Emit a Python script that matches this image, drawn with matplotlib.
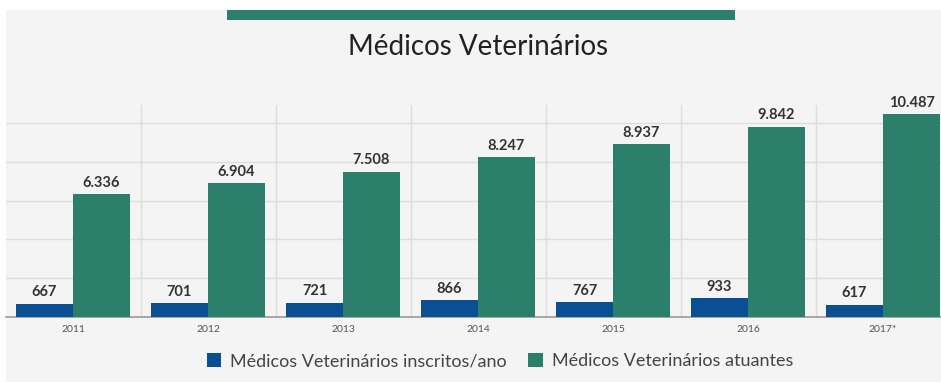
import matplotlib
matplotlib.use("Agg")
import matplotlib.pyplot as plt
from matplotlib.patches import Rectangle, Patch

years = ["2011", "2012", "2013", "2014", "2015", "2016", "2017*"]
inscritos = [667, 701, 721, 866, 767, 933, 617]
atuantes = [6336, 6904, 7508, 8247, 8937, 9842, 10487]
series_names = ["Médicos Veterinários inscritos/ano", "Médicos Veterinários atuantes"]
title = "Médicos Veterinários"

BLUE = "#0b4f93"
GREEN = "#2c7f6b"
BG = "#f4f4f4"

plt.rcParams["font.family"] = ["Lato", "DejaVu Sans"]

W, H = 941, 382
fig = plt.figure(figsize=(W / 100, H / 100), dpi=100, facecolor="white")


def px(x0, y0, x1, y1):
    """Pixel box (top-left origin) -> figure fraction rect."""
    return [x0 / W, 1 - y1 / H, (x1 - x0) / W, (y1 - y0) / H]


# grey panel and the header band
fig.patches.append(Rectangle((6 / W, 0), 1 - 6 / W, 1 - 10 / H,
                             transform=fig.transFigure, facecolor=BG,
                             edgecolor="none", zorder=-10))
fig.patches.append(Rectangle((227 / W, 1 - 20 / H), (735 - 227) / W, 10 / H,
                             transform=fig.transFigure, facecolor=GREEN,
                             edgecolor="none", zorder=-9))

fig.text(478 / W, 1 - 47 / H, title, ha="center", va="center",
         fontsize=20, color="#222222")

ax = fig.add_axes(px(6, 105, 941, 316.5))
ax.set_facecolor("none")
ax.set_zorder(5)

n = len(years)
xs = list(range(n))
bw = 0.422
ax.bar([x - bw / 2 for x in xs], inscritos, width=bw, color=BLUE, zorder=3)
ax.bar([x + bw / 2 for x in xs], atuantes, width=bw, color=GREEN, zorder=3)


def fmt(v):
    return f"{v:,}".replace(",", ".")


for x, v in zip(xs, inscritos):
    ax.annotate(fmt(v), (x - bw / 2, v), xytext=(0, 3), textcoords="offset points",
                ha="center", va="bottom", fontsize=10.5, fontweight="bold",
                color="#333333", annotation_clip=False)
for x, v in zip(xs, atuantes):
    ax.annotate(fmt(v), (x + bw / 2, v), xytext=(0, 3), textcoords="offset points",
                ha="center", va="bottom", fontsize=10.5, fontweight="bold",
                color="#333333", annotation_clip=False)

ax.set_xlim(-(73 - 6) / 135, (941 - 73) / 135)
ax.set_ylim(0, 10958)

for k in range(1, 6):
    ax.axhline(2000 * k, color="#dddddd", lw=1, zorder=1)
for x in range(n - 1):
    ax.axvline(x + 0.5, color="#dddddd", lw=1, zorder=1)

ax.set_xticks(xs)
ax.set_xticklabels(years, fontsize=7.5, color="#555555")
ax.tick_params(axis="x", length=0, pad=6)
ax.set_yticks([])
for s in ["top", "right", "left"]:
    ax.spines[s].set_visible(False)
ax.spines["bottom"].set_color("#999999")
ax.spines["bottom"].set_linewidth(1.2)

handles = [Patch(facecolor=BLUE, edgecolor="none"),
           Patch(facecolor=GREEN, edgecolor="none")]
fig.legend(handles, series_names, loc="center", ncol=2,
           bbox_to_anchor=(500 / W, 1 - 361 / H), frameon=False,
           fontsize=13, labelcolor="#444444", handlelength=0.8,
           handleheight=0.8, handletextpad=0.5, columnspacing=1.2)

fig.savefig("out.png", dpi=100, facecolor="white")
